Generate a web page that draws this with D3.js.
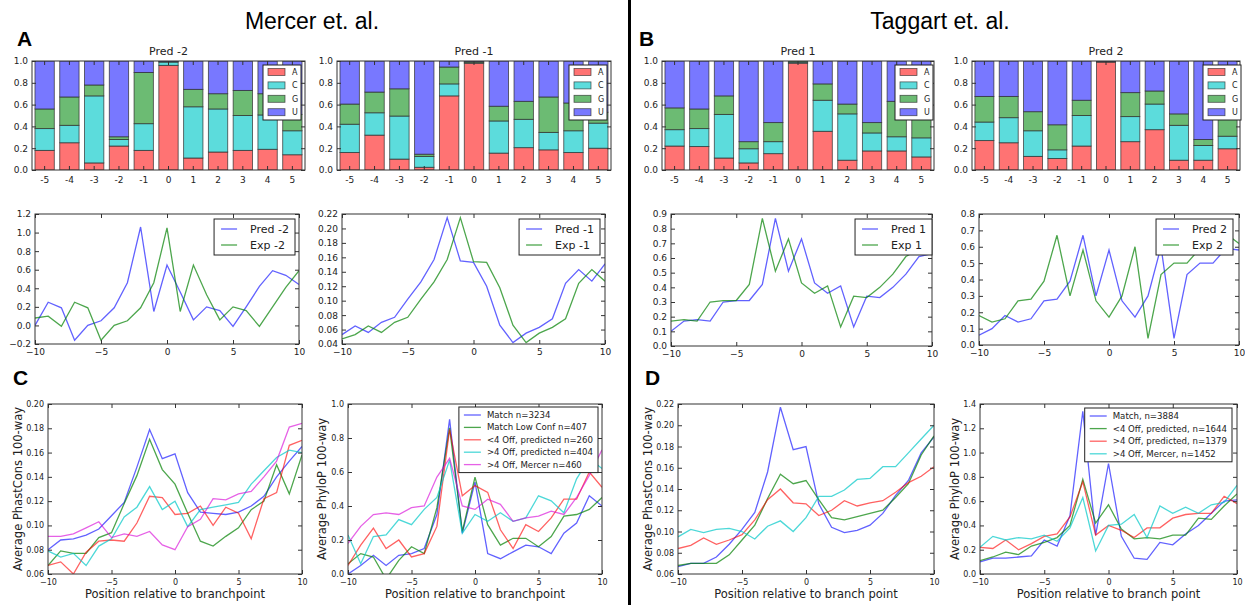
<!DOCTYPE html>
<html>
<head>
<meta charset="utf-8">
<title>Branchpoint prediction and conservation</title>
<script src="https://d3js.org/d3.v7.min.js"></script>
<style>
  body { margin: 0; background: white; }
  svg text { font-family: "DejaVu Sans", sans-serif; fill: #222; }
</style>
</head>
<body>
<svg id="fig" width="1245" height="605"></svg>
<script>
// ---- bar chart data (A / C / G / U fraction at positions -5..5) ----
var barPositions = ["-5", "-4", "-3", "-2", "-1", "0", "1", "2", "3", "4", "5"];
var bases = ["A", "C", "G", "U"];

var predM2A = [0.18, 0.25, 0.065, 0.22, 0.18, 0.96, 0.11, 0.165, 0.18, 0.19, 0.14];
var predM2C = [0.20, 0.16, 0.615, 0.06, 0.245, 0.03, 0.47, 0.395, 0.32, 0.315, 0.22];
var predM2G = [0.18, 0.26, 0.10, 0.025, 0.47, 0.005, 0.16, 0.14, 0.23, 0.195, 0.15];
var predM2U = [0.44, 0.33, 0.22, 0.695, 0.105, 0.005, 0.26, 0.30, 0.27, 0.30, 0.49];

var predM1A = [0.16, 0.32, 0.10, 0.025, 0.68, 0.98, 0.155, 0.205, 0.185, 0.16, 0.20];
var predM1C = [0.26, 0.205, 0.395, 0.10, 0.11, 0.005, 0.295, 0.26, 0.16, 0.20, 0.23];
var predM1G = [0.185, 0.19, 0.25, 0.02, 0.155, 0.01, 0.135, 0.165, 0.325, 0.255, 0.10];
var predM1U = [0.395, 0.285, 0.255, 0.855, 0.055, 0.005, 0.415, 0.37, 0.33, 0.385, 0.47];

var predP1A = [0.22, 0.215, 0.11, 0.065, 0.15, 0.98, 0.355, 0.09, 0.175, 0.175, 0.12];
var predP1C = [0.15, 0.165, 0.40, 0.13, 0.11, 0.01, 0.285, 0.425, 0.165, 0.13, 0.175];
var predP1G = [0.20, 0.18, 0.17, 0.065, 0.175, 0.01, 0.15, 0.09, 0.095, 0.325, 0.22];
var predP1U = [0.43, 0.44, 0.32, 0.74, 0.565, 0.0, 0.21, 0.395, 0.565, 0.37, 0.485];

var predP2A = [0.27, 0.25, 0.125, 0.105, 0.22, 0.99, 0.26, 0.37, 0.09, 0.09, 0.195];
var predP2C = [0.17, 0.23, 0.235, 0.08, 0.28, 0.004, 0.23, 0.235, 0.32, 0.135, 0.115];
var predP2G = [0.235, 0.195, 0.175, 0.23, 0.14, 0.003, 0.22, 0.12, 0.105, 0.055, 0.19];
var predP2U = [0.325, 0.325, 0.465, 0.585, 0.36, 0.003, 0.29, 0.275, 0.485, 0.72, 0.50];

// ---- position offsets for the line charts ----
var offsets = [-10, -9, -8, -7, -6, -5, -4, -3, -2, -1, 0, 1, 2, 3, 4, 5, 6, 7, 8, 9, 10];

// middle row: predicted vs experimental
var predM2 = [0.0, 0.25, 0.19, -0.16, 0.0, 0.05, 0.19, 0.46, 1.06, 0.15, 0.65, 0.36, 0.06, 0.20, 0.16, -0.01, 0.20, 0.42, 0.59, 0.54, 0.44];
var expM2 = [0.08, 0.10, -0.01, 0.25, 0.19, -0.16, 0.0, 0.05, 0.19, 0.46, 1.05, 0.15, 0.65, 0.33, 0.06, 0.20, 0.16, -0.01, 0.20, 0.41, 0.59];

var predM1 = [0.053, 0.065, 0.056, 0.070, 0.077, 0.102, 0.126, 0.157, 0.215, 0.155, 0.153, 0.120, 0.066, 0.042, 0.055, 0.063, 0.075, 0.124, 0.143, 0.127, 0.151];
var expM1 = [0.047, 0.053, 0.065, 0.056, 0.070, 0.077, 0.102, 0.126, 0.157, 0.215, 0.154, 0.153, 0.118, 0.066, 0.042, 0.055, 0.063, 0.075, 0.124, 0.143, 0.127];

var predP1 = [0.10, 0.17, 0.18, 0.17, 0.30, 0.31, 0.31, 0.42, 0.87, 0.51, 0.73, 0.43, 0.36, 0.41, 0.13, 0.34, 0.33, 0.40, 0.49, 0.61, 0.63];
var expP1 = [0.17, 0.18, 0.17, 0.30, 0.31, 0.31, 0.42, 0.87, 0.51, 0.73, 0.43, 0.36, 0.41, 0.13, 0.34, 0.33, 0.40, 0.49, 0.61, 0.66, 0.69];

var predP2 = [0.06, 0.10, 0.18, 0.14, 0.16, 0.27, 0.28, 0.39, 0.67, 0.30, 0.58, 0.27, 0.17, 0.30, 0.60, 0.04, 0.43, 0.50, 0.50, 0.59, 0.58];
var expP2 = [0.18, 0.14, 0.16, 0.27, 0.28, 0.39, 0.67, 0.30, 0.58, 0.27, 0.17, 0.30, 0.60, 0.04, 0.43, 0.50, 0.50, 0.59, 0.58, 0.68, 0.62];

// bottom row: conservation, Mercer set
var mercerLabels = ["Match n=3234", "Match Low Conf n=407", "<4 Off, predicted n=260", ">4 Off, predicted n=404", ">4 Off, Mercer n=460"];
var mercerPhastMatch = [0.080, 0.088, 0.089, 0.092, 0.097, 0.108, 0.119, 0.148, 0.179, 0.155, 0.159, 0.127, 0.111, 0.110, 0.109, 0.111, 0.116, 0.124, 0.140, 0.153, 0.165];
var mercerPhastLowConf = [0.067, 0.079, 0.077, 0.077, 0.090, 0.094, 0.118, 0.141, 0.171, 0.146, 0.134, 0.110, 0.087, 0.083, 0.091, 0.098, 0.113, 0.120, 0.150, 0.126, 0.158];
var mercerPhastLt4 = [0.067, 0.070, 0.060, 0.078, 0.087, 0.088, 0.087, 0.102, 0.124, 0.123, 0.109, 0.110, 0.116, 0.100, 0.115, 0.110, 0.089, 0.122, 0.127, 0.166, 0.170];
var mercerPhastGt4 = [0.079, 0.074, 0.077, 0.067, 0.083, 0.089, 0.107, 0.115, 0.132, 0.113, 0.120, 0.099, 0.113, 0.115, 0.117, 0.119, 0.134, 0.145, 0.156, 0.162, 0.160];
var mercerPhastMercer = [0.091, 0.091, 0.093, 0.098, 0.103, 0.090, 0.093, 0.091, 0.095, 0.084, 0.080, 0.099, 0.105, 0.122, 0.121, 0.126, 0.128, 0.140, 0.153, 0.181, 0.184];

var mercerPhyloMatch = [0.00, 0.05, 0.11, 0.05, 0.11, 0.12, 0.15, 0.35, 0.91, 0.24, 0.54, 0.12, 0.09, 0.13, 0.17, 0.16, 0.12, 0.24, 0.30, 0.46, 0.40];
var mercerPhyloLowConf = [0.06, 0.12, 0.10, -0.03, 0.08, 0.16, 0.12, 0.39, 0.86, 0.25, 0.57, 0.29, 0.17, 0.21, 0.21, 0.16, 0.22, 0.34, 0.35, 0.38, 0.45];
var mercerPhyloLt4 = [0.05, 0.17, 0.27, 0.15, 0.20, 0.10, 0.12, 0.28, 0.85, 0.46, 0.52, 0.48, 0.26, 0.15, 0.29, 0.25, 0.33, 0.44, 0.44, 0.60, 0.51];
var mercerPhyloGt4 = [0.23, 0.06, 0.22, 0.23, 0.32, 0.29, 0.38, 0.45, 0.67, 0.24, 0.35, 0.31, 0.36, 0.31, 0.33, 0.46, 0.43, 0.36, 0.56, 0.68, 0.62];
var mercerPhyloMercer = [0.18, 0.28, 0.35, 0.36, 0.35, 0.39, 0.40, 0.57, 0.68, 0.40, 0.38, 0.44, 0.41, 0.31, 0.33, 0.34, 0.37, 0.35, 0.45, 0.58, 0.73];

// bottom row: conservation, Taggart set
var taggartLabels = ["Match, n=3884", "<4 Off, predicted, n=1644", ">4 Off, predicted, n=1379", ">4 Off, Mercer, n=1452"];
var taggartPhastMatch = [0.067, 0.070, 0.070, 0.076, 0.088, 0.102, 0.118, 0.156, 0.217, 0.177, 0.180, 0.126, 0.104, 0.099, 0.101, 0.106, 0.117, 0.134, 0.148, 0.174, 0.189];
var taggartPhastLt4 = [0.068, 0.070, 0.070, 0.070, 0.078, 0.092, 0.106, 0.131, 0.154, 0.145, 0.148, 0.130, 0.113, 0.111, 0.114, 0.117, 0.120, 0.132, 0.145, 0.172, 0.190];
var taggartPhastGt4 = [0.084, 0.087, 0.094, 0.088, 0.092, 0.097, 0.111, 0.130, 0.140, 0.127, 0.126, 0.115, 0.120, 0.129, 0.124, 0.127, 0.129, 0.137, 0.146, 0.152, 0.161];
var taggartPhastMercer = [0.095, 0.102, 0.099, 0.102, 0.103, 0.100, 0.093, 0.105, 0.110, 0.100, 0.113, 0.133, 0.133, 0.139, 0.149, 0.150, 0.161, 0.161, 0.174, 0.187, 0.200];

var taggartPhyloMatch = [0.10, 0.13, 0.13, 0.14, 0.15, 0.28, 0.23, 0.48, 1.34, 0.32, 0.91, 0.31, 0.13, 0.12, 0.26, 0.24, 0.33, 0.40, 0.50, 0.60, 0.61];
var taggartPhyloLt4 = [0.11, 0.14, 0.18, 0.16, 0.23, 0.26, 0.30, 0.40, 0.78, 0.42, 0.57, 0.37, 0.29, 0.30, 0.29, 0.32, 0.32, 0.46, 0.45, 0.56, 0.66];
var taggartPhyloGt4 = [0.22, 0.21, 0.28, 0.20, 0.25, 0.31, 0.33, 0.47, 0.76, 0.32, 0.40, 0.36, 0.30, 0.38, 0.38, 0.46, 0.49, 0.50, 0.50, 0.64, 0.58];
var taggartPhyloMercer = [0.22, 0.31, 0.28, 0.30, 0.29, 0.32, 0.27, 0.38, 0.63, 0.19, 0.40, 0.41, 0.49, 0.30, 0.56, 0.50, 0.55, 0.50, 0.57, 0.59, 0.73];

// ---- colours (matplotlib classic, semi transparent) ----
var baseColor = { A: "#ff7373", C: "#5cdcdc", G: "#6cbb73", U: "#7878ff" };
var cBlue = "rgba(0,0,255,0.62)",
    cGreen = "rgba(0,128,0,0.7)",
    cRed = "rgba(255,0,0,0.62)",
    cCyan = "rgba(0,200,200,0.7)",
    cMagenta = "rgba(215,0,215,0.62)";

var svg = d3.select("#fig");
var frameColor = "#333";
var clipId = 0;

function styleAxis(sel, size) {
	sel.select(".domain").remove();
	sel.attr("font-family", null).attr("font-size", null);
	sel.selectAll("line").attr("stroke", frameColor);
	sel.selectAll("text").style("font-size", size + "px").attr("fill", "#222");
}

function mirrorAxes(g, x, y, o, xTicks, yTicks) {
	g.append("g").attr("transform", "translate(0," + o.top + ")")
		.call(d3.axisTop(x).tickValues(xTicks).tickSize(-4).tickFormat(""))
		.call(styleAxis, 8);
	g.append("g").attr("transform", "translate(" + o.right + ",0)")
		.call(d3.axisRight(y).tickValues(yTicks).tickSize(-4).tickFormat(""))
		.call(styleAxis, 8);
}

function frame(g, o) {
	g.append("rect")
		.attr("x", o.left).attr("y", o.top)
		.attr("width", o.right - o.left).attr("height", o.bottom - o.top)
		.attr("fill", "none").attr("stroke", frameColor).attr("stroke-width", 1);
}

function clipRect(o) {
	clipId++;
	svg.append("clipPath").attr("id", "clip" + clipId)
		.append("rect")
		.attr("x", o.left).attr("y", o.top)
		.attr("width", o.right - o.left).attr("height", o.bottom - o.top);
	return "url(#clip" + clipId + ")";
}

// stacked base composition panel
function barPanel(o) {
	var g = svg.append("g");
	var x = d3.scaleBand().domain(barPositions).range([o.left, o.right])
		.paddingInner(0.22).paddingOuter(0.12);
	var y = d3.scaleLinear().domain([0, 1]).range([o.bottom, o.top]);

	var rows = barPositions.map(function(p, i) {
		return { pos: p, A: o.A[i], C: o.C[i], G: o.G[i], U: o.U[i] };
	});
	var layers = d3.stack().keys(bases)(rows);

	g.append("g").attr("clip-path", clipRect(o))
		.selectAll("g").data(layers).enter().append("g")
		.attr("fill", function(d) { return baseColor[d.key]; })
		.selectAll("rect").data(function(d) { return d; }).enter().append("rect")
		.attr("x", function(d) { return x(d.data.pos); })
		.attr("width", x.bandwidth())
		.attr("y", function(d) { return y(d[1]); })
		.attr("height", function(d) { return y(d[0]) - y(d[1]); })
		.attr("stroke", "#2a2a2a").attr("stroke-width", 0.9).attr("stroke-opacity", 0.75);

	var yTicks = [0, 0.2, 0.4, 0.6, 0.8, 1.0];
	g.append("g").attr("transform", "translate(0," + o.bottom + ")")
		.call(d3.axisBottom(x).tickSize(-4).tickPadding(7))
		.call(styleAxis, 9);
	g.append("g").attr("transform", "translate(" + o.left + ",0)")
		.call(d3.axisLeft(y).tickValues(yTicks).tickFormat(d3.format(".1f")).tickSize(-4).tickPadding(4))
		.call(styleAxis, 9);
	mirrorAxes(g, x, y, o, barPositions, yTicks);
	frame(g, o);

	g.append("text")
		.attr("x", (o.left + o.right) / 2).attr("y", o.top - 6)
		.attr("text-anchor", "middle").style("font-size", "11px")
		.text(o.title);

	// legend
	var lw = 38, lh = 55;
	var lx = o.legendRight - lw, ly = o.top + 4;
	var lg = g.append("g");
	lg.append("rect").attr("x", lx).attr("y", ly).attr("width", lw).attr("height", lh)
		.attr("fill", "white").attr("stroke", "#222").attr("stroke-width", 1);
	bases.forEach(function(b, i) {
		var ry = ly + 7 + i * 13.4;
		lg.append("rect").attr("x", lx + 5).attr("y", ry - 3.5).attr("width", 17).attr("height", 7)
			.attr("fill", baseColor[b]).attr("stroke", "#2a2a2a").attr("stroke-width", 0.8).attr("stroke-opacity", 0.75);
		lg.append("text").attr("x", lx + 29).attr("y", ry + 3).style("font-size", "8px").text(b);
	});
}

// line panel
function linePanel(o) {
	var g = svg.append("g");
	var x = d3.scaleLinear().domain([-10, 10]).range([o.left, o.right]);
	var y = d3.scaleLinear().domain(o.yDomain).range([o.bottom, o.top]);
	var line = d3.line()
		.x(function(d, i) { return x(offsets[i]); })
		.y(function(d) { return y(d); });

	var sg = g.append("g").attr("clip-path", clipRect(o));
	o.series.forEach(function(s) {
		sg.append("path").datum(s.values)
			.attr("d", line)
			.attr("fill", "none")
			.attr("stroke", s.color)
			.attr("stroke-width", 1.3)
			.attr("stroke-linejoin", "miter");
	});

	var xTicks = [-10, -5, 0, 5, 10];
	g.append("g").attr("transform", "translate(0," + o.bottom + ")")
		.call(d3.axisBottom(x).tickValues(xTicks).tickFormat(d3.format("d")).tickSize(-4).tickPadding(5))
		.call(styleAxis, o.tickSize);
	g.append("g").attr("transform", "translate(" + o.left + ",0)")
		.call(d3.axisLeft(y).tickValues(o.yTicks).tickFormat(d3.format(o.yFmt)).tickSize(-4).tickPadding(4))
		.call(styleAxis, o.tickSize);
	mirrorAxes(g, x, y, o, xTicks, o.yTicks);
	frame(g, o);

	if (o.xlabel) {
		g.append("text")
			.attr("x", (o.left + o.right) / 2).attr("y", o.bottom + 24)
			.attr("text-anchor", "middle").style("font-size", "11.5px")
			.text(o.xlabel);
	}
	if (o.ylabel) {
		g.append("text")
			.attr("transform", "translate(" + o.ylabelX + "," + ((o.top + o.bottom) / 2) + ")rotate(-90)")
			.attr("text-anchor", "middle").attr("dy", "0.35em").style("font-size", "11.5px")
			.text(o.ylabel);
	}

	// legend box (only some panels have one)
	var L = o.legend;
	if (!L) return;
	var lg = g.append("g");
	var box = lg.append("rect").attr("fill", "white").attr("stroke", "#222").attr("stroke-width", 1);
	var maxW = 0;
	o.series.forEach(function(s, i) {
		var ry = L.top + L.first + i * L.step;
		lg.append("line").attr("stroke", s.color).attr("stroke-width", 1.3)
			.attr("x1", 0).attr("x2", L.handle).attr("y1", ry).attr("y2", ry)
			.attr("class", "handle");
		var t = lg.append("text").attr("y", ry).attr("dy", "0.35em")
			.style("font-size", L.font + "px").text(s.label).attr("class", "ltext");
		maxW = Math.max(maxW, t.node().getComputedTextLength());
	});
	var bw = L.textOff + maxW + L.padRight;
	var bx = L.right - bw;
	box.attr("x", bx).attr("y", L.top).attr("width", bw)
		.attr("height", L.first * 2 + (o.series.length - 1) * L.step);
	lg.selectAll("line.handle").attr("x1", bx + L.handleOff).attr("x2", bx + L.handleOff + L.handle);
	lg.selectAll("text.ltext").attr("x", bx + L.textOff);
}

// ---- top row: base composition ----
barPanel({ left: 32, right: 305, top: 61, bottom: 170, title: "Pred -2", legendRight: 301,
	A: predM2A, C: predM2C, G: predM2G, U: predM2U });
barPanel({ left: 337, right: 611, top: 61, bottom: 170, title: "Pred -1", legendRight: 607,
	A: predM1A, C: predM1C, G: predM1G, U: predM1U });
barPanel({ left: 662, right: 934, top: 61, bottom: 170, title: "Pred 1", legendRight: 933,
	A: predP1A, C: predP1C, G: predP1G, U: predP1U });
barPanel({ left: 972, right: 1240, top: 61, bottom: 170, title: "Pred 2", legendRight: 1241,
	A: predP2A, C: predP2C, G: predP2G, U: predP2U });

// ---- middle row ----
function midLegend(right) {
	return { right: right, top: 219, first: 10, step: 16, handleOff: 7, handle: 16,
		textOff: 36, padRight: 6, font: 11 };
}
linePanel({ left: 35, right: 299, top: 214, bottom: 344, yDomain: [-0.2, 1.2],
	yTicks: [-0.2, 0, 0.2, 0.4, 0.6, 0.8, 1.0, 1.2], yFmt: ".1f", tickSize: 9,
	series: [{ values: predM2, color: cBlue, label: "Pred -2" }, { values: expM2, color: cGreen, label: "Exp -2" }],
	legend: midLegend(295) });
linePanel({ left: 342, right: 605, top: 214, bottom: 344, yDomain: [0.04, 0.22],
	yTicks: [0.04, 0.06, 0.08, 0.10, 0.12, 0.14, 0.16, 0.18, 0.20, 0.22], yFmt: ".2f", tickSize: 9,
	series: [{ values: predM1, color: cBlue, label: "Pred -1" }, { values: expM1, color: cGreen, label: "Exp -1" }],
	legend: midLegend(600) });
linePanel({ left: 671, right: 932, top: 214, bottom: 346, yDomain: [0, 0.9],
	yTicks: [0, 0.1, 0.2, 0.3, 0.4, 0.5, 0.6, 0.7, 0.8, 0.9], yFmt: ".1f", tickSize: 9,
	series: [{ values: predP1, color: cBlue, label: "Pred 1" }, { values: expP1, color: cGreen, label: "Exp 1" }],
	legend: midLegend(932) });
linePanel({ left: 979, right: 1239, top: 214, bottom: 345, yDomain: [0, 0.8],
	yTicks: [0, 0.1, 0.2, 0.3, 0.4, 0.5, 0.6, 0.7, 0.8], yFmt: ".1f", tickSize: 9,
	series: [{ values: predP2, color: cBlue, label: "Pred 2" }, { values: expP2, color: cGreen, label: "Exp 2" }],
	legend: midLegend(1233) });

// ---- bottom row ----
function lowLegend(right, top, step) {
	return { right: right, top: top, first: 8, step: step, handleOff: 5, handle: 17,
		textOff: 28, padRight: 5, font: 8.6 };
}
var mercerColors = [cBlue, cGreen, cRed, cCyan, cMagenta];
var taggartColors = [cBlue, cGreen, cRed, cCyan];

linePanel({ left: 48, right: 302, top: 404, bottom: 574, yDomain: [0.06, 0.20],
	yTicks: [0.06, 0.08, 0.10, 0.12, 0.14, 0.16, 0.18, 0.20], yFmt: ".2f", tickSize: 8,
	xlabel: "Position relative to branchpoint", ylabel: "Average PhastCons 100-way", ylabelX: 18,
	series: [mercerPhastMatch, mercerPhastLowConf, mercerPhastLt4, mercerPhastGt4, mercerPhastMercer].map(function(v, i) {
		return { values: v, color: mercerColors[i], label: mercerLabels[i] };
	}) });
linePanel({ left: 348, right: 602, top: 404, bottom: 574, yDomain: [0, 1.0],
	yTicks: [0, 0.2, 0.4, 0.6, 0.8, 1.0], yFmt: ".1f", tickSize: 8,
	xlabel: "Position relative to branchpoint", ylabel: "Average PhyloP 100-way", ylabelX: 322,
	series: [mercerPhyloMatch, mercerPhyloLowConf, mercerPhyloLt4, mercerPhyloGt4, mercerPhyloMercer].map(function(v, i) {
		return { values: v, color: mercerColors[i], label: mercerLabels[i] };
	}),
	legend: lowLegend(598, 407, 12.4) });
linePanel({ left: 678, right: 934, top: 404, bottom: 574, yDomain: [0.06, 0.22],
	yTicks: [0.06, 0.08, 0.10, 0.12, 0.14, 0.16, 0.18, 0.20, 0.22], yFmt: ".2f", tickSize: 8,
	xlabel: "Position relative to branch point", ylabel: "Average PhastCons 100-way", ylabelX: 648,
	series: [taggartPhastMatch, taggartPhastLt4, taggartPhastGt4, taggartPhastMercer].map(function(v, i) {
		return { values: v, color: taggartColors[i], label: taggartLabels[i] };
	}) });
linePanel({ left: 980, right: 1237, top: 404, bottom: 574, yDomain: [0, 1.4],
	yTicks: [0, 0.2, 0.4, 0.6, 0.8, 1.0, 1.2, 1.4], yFmt: ".1f", tickSize: 8,
	xlabel: "Position relative to branch point", ylabel: "Average PhyloP 100-way", ylabelX: 955,
	series: [taggartPhyloMatch, taggartPhyloLt4, taggartPhyloGt4, taggartPhyloMercer].map(function(v, i) {
		return { values: v, color: taggartColors[i], label: taggartLabels[i] };
	}),
	legend: lowLegend(1232, 408, 12.6) });

// ---- headings, panel letters, divider ----
svg.append("text").attr("x", 312).attr("y", 29).attr("text-anchor", "middle")
	.style("font-family", "'Liberation Sans', Arial, sans-serif").style("font-size", "23px").style("fill", "#000")
	.text("Mercer et. al.");
svg.append("text").attr("x", 940).attr("y", 29).attr("text-anchor", "middle")
	.style("font-family", "'Liberation Sans', Arial, sans-serif").style("font-size", "23px").style("fill", "#000")
	.text("Taggart et. al.");

[["A", 17, 46], ["B", 639, 46], ["C", 13, 385], ["D", 645, 385]].forEach(function(p) {
	svg.append("text").attr("x", p[1]).attr("y", p[2])
		.style("font-family", "'Liberation Sans', Arial, sans-serif").style("font-weight", "bold")
		.style("font-size", "21px").style("fill", "#000")
		.text(p[0]);
});

svg.append("line").attr("x1", 629.5).attr("x2", 629.5).attr("y1", 0).attr("y2", 605)
	.attr("stroke", "#000").attr("stroke-width", 3);
</script>
</body>
</html>
